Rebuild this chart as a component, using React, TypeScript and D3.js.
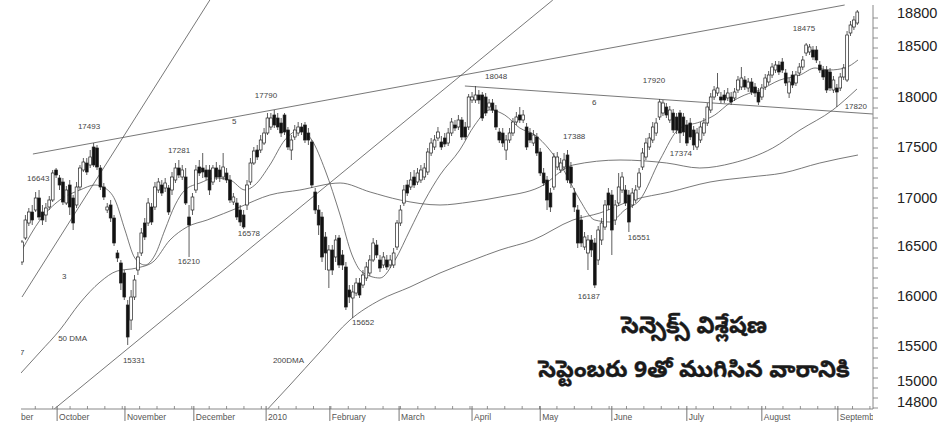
import React from 'react';
import * as d3 from 'd3';

// [open, high, low, close] per trading day, mid-Sep 2009 .. 10 Sep 2010
const candles: [number, number, number, number][] = [
[16360,16580,16330,16560],[16600,16830,16580,16780],[16750,16900,16720,16860],[16860,16930,16730,16780],
[16880,17060,16860,17000],[17000,17080,16780,16810],[16860,16930,16730,16780],[16830,16950,16760,16900],
[16910,17020,16880,16980],[16980,17280,16960,17250],[17280,17300,17200,17230],[17200,17230,17080,17130],
[17160,17200,16930,16960],[16950,17120,16930,17080],[17130,17180,16830,16910],[17000,17030,16680,16750],
[16930,17160,16900,17110],[17110,17330,17080,17300],[17280,17400,17260,17360],[17350,17400,17230,17260],
[17330,17480,17300,17410],[17510,17550,17310,17330],[17500,17530,17280,17310],[17300,17330,17080,17110],
[17110,17150,16980,17010],[16880,16950,16850,16910],[16930,16980,16760,16800],[16800,16830,16520,16550],
[16450,16480,16360,16400],[16350,16380,16080,16150],[16250,16280,15980,16010],[15930,15980,15530,15610],
[15780,16080,15680,16010],[16010,16230,15980,16180],[16280,16460,16230,16410],[16450,16700,16420,16650],
[16750,16800,16580,16610],[16750,17000,16720,16950],[16910,16950,16730,16760],[16910,17160,16880,17110],
[17080,17200,17050,17160],[17130,17180,17020,17050],[17100,17200,17060,17150],[17100,17130,16830,16860],
[17080,17260,17030,17210],[17180,17350,17150,17300],[17300,17380,17200,17230],[17210,17330,17180,17280],
[17210,17300,16930,16950],[16810,16930,16410,16730],[16880,17050,16830,17010],[17080,17330,17050,17280],
[17310,17380,17220,17250],[17300,17450,17200,17260],[17280,17330,17180,17210],[17280,17330,17030,17080],
[17160,17330,17130,17300],[17300,17360,17180,17210],[17280,17330,17160,17210],[17210,17450,17180,17310],
[17250,17300,17150,17180],[17180,17230,16950,16980],[16960,17050,16930,17010],[16950,17000,16780,16810],
[16880,16930,16720,16760],[16830,16880,16690,16710],[16930,17180,16880,17130],[17160,17400,17130,17350],
[17350,17510,17330,17470],[17480,17530,17380,17410],[17480,17630,17450,17580],[17550,17700,17530,17650],
[17650,17850,17630,17800],[17710,17850,17680,17800],[17830,17880,17700,17730],[17800,17850,17680,17710],
[17750,17800,17610,17650],[17830,17850,17630,17660],[17680,17710,17480,17510],[17480,17630,17380,17580],
[17610,17730,17580,17680],[17650,17760,17620,17710],[17710,17750,17630,17660],[17730,17760,17550,17580],
[17650,17700,17530,17580],[17560,17580,17100,17130],[17060,17100,16840,16880],[16880,16930,16630,16730],
[16810,16860,16360,16410],[16610,16660,16280,16450],[16280,16530,16100,16480],[16480,16530,16230,16280],
[16410,16630,16360,16580],[16600,16630,16300,16330],[16430,16480,16280,16330],[16310,16360,15880,15910],
[16080,16130,15950,16010],[16000,16130,15800,16060],[16050,16200,16020,16150],[16150,16200,16000,16030],
[16130,16280,16100,16230],[16200,16360,16170,16310],[16250,16430,16220,16380],[16380,16600,16360,16550],
[16530,16580,16400,16430],[16380,16430,16260,16300],[16330,16460,16300,16410],[16380,16430,16280,16310],
[16330,16430,16300,16380],[16330,16500,16300,16450],[16510,16780,16480,16750],[16750,16930,16720,16880],
[16950,17130,16920,17080],[17130,17180,17020,17050],[17110,17260,17080,17180],[17210,17280,17100,17130],
[17160,17300,17130,17250],[17180,17330,17150,17280],[17210,17350,17180,17300],[17260,17500,17230,17460],
[17450,17600,17420,17550],[17510,17630,17480,17580],[17600,17710,17570,17660],[17560,17620,17480,17510],
[17600,17650,17510,17540],[17550,17700,17520,17650],[17650,17800,17620,17760],[17730,17780,17670,17700],
[17710,17830,17680,17780],[17780,17810,17580,17610],[17710,17760,17580,17610],[17710,18040,17680,18010],
[17980,18060,17950,18010],[17980,18120,17950,18030],[18030,18080,17940,17980],[18030,18060,17770,17800],
[18010,18050,17820,17850],[17910,17990,17880,17950],[17950,17990,17850,17880],[17880,17930,17680,17710],
[17660,17700,17550,17580],[17650,17700,17510,17550],[17480,17630,17380,17580],[17580,17700,17550,17650],
[17650,17800,17620,17760],[17760,17860,17730,17810],[17830,17910,17750,17780],[17780,17880,17750,17830],
[17710,17750,17480,17510],[17650,17700,17550,17580],[17550,17680,17520,17630],[17610,17650,17420,17450],
[17460,17500,17220,17250],[17250,17300,17120,17150],[17180,17220,16880,16980],[17050,17100,16860,16910],
[17110,17450,17080,17410],[17310,17460,17280,17410],[17280,17400,17250,17350],[17310,17450,17280,17380],
[17430,17480,17150,17180],[17310,17360,17100,17150],[17050,17100,16860,16910],[16880,16930,16500,16550],
[16780,16830,16510,16550],[16510,16660,16480,16610],[16450,16630,16280,16580],[16580,16630,16410,16480],
[16550,16600,16100,16130],[16380,16720,16330,16680],[16580,16800,16530,16750],[16710,16980,16680,16930],
[17050,17100,16880,16930],[17030,17080,16430,16680],[16780,16980,16730,16930],[16950,17250,16920,17110],
[17080,17260,17050,17210],[17080,17130,16920,16950],[17030,17080,16660,16760],[16930,17100,16900,17050],
[16980,17130,16950,17080],[17110,17300,17080,17250],[17310,17500,17280,17450],[17410,17600,17380,17550],
[17510,17650,17480,17600],[17580,17760,17550,17710],[17650,17800,17620,17750],[17810,17990,17780,17960],
[17850,17980,17820,17950],[17910,17950,17800,17830],[17780,17920,17750,17880],[17850,17890,17650,17680],
[17810,17850,17640,17680],[17850,17880,17550,17650],[17810,17850,17620,17660],[17730,17780,17520,17550],
[17750,17800,17580,17610],[17680,17720,17480,17530],[17510,17700,17480,17650],[17580,17760,17550,17710],
[17650,17800,17620,17750],[17750,17950,17720,17910],[17880,18050,17850,18010],[18010,18120,17980,18080],
[18050,18250,18020,18100],[18010,18060,17950,17980],[18030,18080,17950,17980],[18000,18100,17970,18050],
[18010,18060,17930,17960],[18000,18100,17970,18060],[18080,18220,18050,18180],[18110,18310,18080,18200],
[18180,18220,18080,18110],[18100,18200,18060,18160],[18160,18200,18030,18060],[18110,18150,18010,18050],
[18060,18100,17930,17960],[18010,18140,17980,18100],[18110,18240,18080,18200],[18160,18270,18130,18230],
[18230,18350,18200,18310],[18280,18370,18250,18330],[18330,18370,18230,18260],[18360,18400,18250,18280],
[18250,18290,18120,18150],[18050,18200,18000,18160],[18230,18270,18100,18130],[18150,18270,18120,18230],
[18250,18350,18220,18310],[18310,18420,18280,18380],[18450,18550,18420,18530],[18460,18540,18430,18510],
[18480,18520,18380,18410],[18480,18520,18350,18380],[18330,18370,18250,18280],[18280,18320,18180,18210],
[18280,18320,18050,18080],[18260,18300,18070,18100],[18080,18220,18050,18180],[18100,18140,17910,18060],
[18100,18250,18070,18210],[18210,18340,18180,18300],[18180,18670,18160,18630],[18650,18770,18620,18730],
[18710,18820,18680,18780],[18750,18880,18730,18860],
];

// moving averages: [day index, value]
const ma20: [number, number][] = [
[0,16480],[5.3,16780],[11.1,16980],[17,17080],[21.4,17130],[24.3,17100],[27.3,16980],[30.2,16680],
[33.1,16400],[36.1,16330],[39,16430],[41.9,16680],[44.9,16930],[47.8,17080],[52.2,17150],[56.6,17200],
[61,17180],[65.4,17080],[68.3,17130],[72.7,17330],[77.1,17580],[81.5,17680],[85,17580],[88.9,17280],
[93.3,16830],[96.8,16430],[99.7,16260],[105,16200],[109.4,16380],[113.8,16680],[118.2,16980],[122.6,17230],
[128.4,17480],[132.8,17730],[137.2,17880],[141.6,17830],[146,17700],[150.4,17630],[154.8,17480],[159.2,17260],
[163.6,16980],[168,16780],[172.4,16760],[176.8,16880],[181.2,16980],[187.1,17380],[193,17700],[198.8,17760],
[203.2,17830],[207.6,17950],[212,18030],[216.4,18080],[222.3,18180],[228.2,18230],[232.6,18300],[236.9,18280],
[241.3,18300],[245.2,18380],
];
const ma50: [number, number][] = [
[-0.3,15250],[5.3,15460],[11.1,15680],[17,15950],[22.9,16160],[27.9,16270],[33.7,16300],[38.4,16360],
[43.4,16580],[48.4,16710],[54.3,16780],[63.9,16910],[72.7,17030],[81.5,17080],[93.3,17150],[102.1,17060],
[110.9,16980],[122.6,16930],[131.4,16960],[140.2,17010],[151.9,17110],[161.6,17330],[175.4,17380],[189.1,17350],
[198.8,17300],[208.5,17350],[220.2,17500],[228.2,17680],[237.8,17880],[244.9,18090],
];
const ma200: [number, number][] = [
[71.8,14880],[78.6,15130],[87.4,15460],[96.2,15780],[105,15980],[113.8,16110],[122.6,16250],[132.3,16380],
[140.2,16480],[149.9,16580],[161.6,16780],[169.5,16850],[179.2,16980],[190,17060],[201.8,17160],[213.5,17210],
[223.2,17250],[234,17350],[245.2,17430],
];

// trend lines: [day1, value1, day2, value2]
const trendLines: [number, number, number, number][] = [
[3.2, 17440, 241.3, 18930],
[129.9, 18120, 249.6, 17840],
[9.1, 14880, 155.7, 18980],
[0, 16010, 55.1, 18980],
];

// annotations: [text, day index, value]
const notes: [string, number, number][] = [
['16643', 1.5, 17190], ['17493', 16.4, 17710], ['5', 61.6, 17760], ['17790', 68.3, 18020],
['17281', 42.8, 17470], ['18048', 135.8, 18210], ['6', 167.2, 17950], ['17388', 158.7, 17610],
['17920', 182.1, 18170], ['18475', 226.1, 18690], ['17374', 190, 17440], ['17820', 241.3, 17910],
['3', 11.7, 16210], ['50 DMA', 10.6, 15590], ['7', -0.6, 15450], ['15331', 29.6, 15370],
['16210', 45.7, 16360], ['16578', 63.3, 16640], ['200DMA', 73.6, 15370], ['15652', 96.8, 15750],
['16187', 163, 16010], ['16551', 177.7, 16600],
];

const monthLabels = ['October', 'November', 'December', '2010', 'February', 'March', 'April', 'May', 'June', 'July', 'August', 'Septemb'];
const monthStarts = [10.3, 30.2, 50.4, 71.6, 90.3, 110.6, 132, 152, 173, 195, 217, 239.3];
const yLabels = [18800, 18500, 18000, 17500, 17000, 16500, 16000, 15500, 15000, 14800];
const yLabelNudge = [-4, -1, 0, 0, 1, -1, -1, -1, -16, -15];

const W = 947, H = 425;
const plotLeft = 21, plotRight = 873, plotBottom = 409;

export default function App() {
  const x = d3.scaleLinear().domain([0, 245]).range([22, 857.3]);
  const y = d3.scaleLinear().domain([14880, 18980]).range([410, 0]);
  const line = d3.line<[number, number]>().x(d => x(d[0])).y(d => y(d[1])).curve(d3.curveMonotoneX);
  const weekTicks = d3.range(-1.2, 250, 5.1);
  const yMinor = d3.range(14900, 18801, 100);
  const lineColor = '#555';
  return (
    <svg width={W} height={H} style={{ position: 'absolute', left: 0, top: 0, background: '#fff' }}
      fontFamily="'Liberation Sans', Arial, sans-serif">
      <defs>
        <clipPath id="plot"><rect x={plotLeft} y={0} width={plotRight - plotLeft} height={plotBottom} /></clipPath>
        <clipPath id="xlab"><rect x={plotLeft} y={plotBottom} width={plotRight - plotLeft} height={16} /></clipPath>
      </defs>
      <rect width={W} height={H} fill="#fff" />
      <g clipPath="url(#plot)">
        {trendLines.map((t, i) => (
          <line key={i} x1={x(t[0])} y1={y(t[1])} x2={x(t[2])} y2={y(t[3])} stroke={lineColor} strokeWidth={0.8} />
        ))}
        {[ma200, ma50, ma20].map((m, i) => (
          <path key={i} d={line(m) || ''} fill="none" stroke={lineColor} strokeWidth={0.8} />
        ))}
        {candles.map((d, i) => {
          const [o, h, l, c] = d;
          const up = c >= o;
          const cx = x(i);
          const top = y(Math.max(o, c));
          const hgt = Math.max(1, Math.abs(y(o) - y(c)));
          return (
            <g key={i}>
              <line x1={cx} x2={cx} y1={y(h)} y2={y(l)} stroke="#333" strokeWidth={0.8} />
              <rect x={cx - 1.4} y={top} width={2.8} height={hgt} fill={up ? '#fff' : '#111'} stroke="#222" strokeWidth={0.7} />
            </g>
          );
        })}
        {notes.map((n, i) => (
          <text key={i} x={x(n[1])} y={y(n[2])} fontSize={8} fill="#444" dominantBaseline="middle">{n[0]}</text>
        ))}
      </g>
      {/* x axis */}
      <line x1={plotLeft} x2={plotRight} y1={plotBottom} y2={plotBottom} stroke="#888" strokeWidth={1} />
      {weekTicks.filter(t => x(t) > plotLeft && x(t) < plotRight).map((t, i) => (
        <line key={i} x1={x(t)} x2={x(t)} y1={plotBottom - 3} y2={plotBottom} stroke="#777" strokeWidth={0.8} />
      ))}
      {monthStarts.map((m, i) => (
        <line key={i} x1={x(m)} x2={x(m)} y1={plotBottom - 3} y2={plotBottom + 12} stroke="#666" strokeWidth={0.9} />
      ))}
      <g clipPath="url(#xlab)">
        <text x={plotLeft} y={plotBottom + 11} fontSize={8.5} fill="#555">ber</text>
        {monthStarts.map((m, i) => (
          <text key={i} x={x(m) + 2} y={plotBottom + 11} fontSize={8.5} fill="#555">{monthLabels[i]}</text>
        ))}
      </g>
      {/* y axis */}
      <line x1={plotRight} x2={plotRight} y1={5} y2={plotBottom} stroke="#888" strokeWidth={1} />
      {yMinor.map((v, i) => (
        <line key={i} x1={plotRight} x2={plotRight + 5} y1={y(v)} y2={y(v)} stroke="#777" strokeWidth={0.8} />
      ))}
      {yLabels.map((v, i) => (
        <text key={i} x={897} y={y(v) + yLabelNudge[i]} fontSize={14.5} fill="#222" dominantBaseline="middle">{v}</text>
      ))}
      {/* title */}
      <g fontFamily="'Noto Sans Telugu', 'Noto Sans', sans-serif" fontWeight="bold" fill="#1a1a1a" stroke="#1a1a1a" strokeWidth={0.4} textAnchor="middle">
        <text x={694} y={333} fontSize={23}>సెన్సెక్స్ విశ్లేషణ</text>
        <text x={694} y={377} fontSize={23}>సెప్టెంబరు 9తో ముగిసిన వారానికి</text>
      </g>
    </svg>
  );
}
